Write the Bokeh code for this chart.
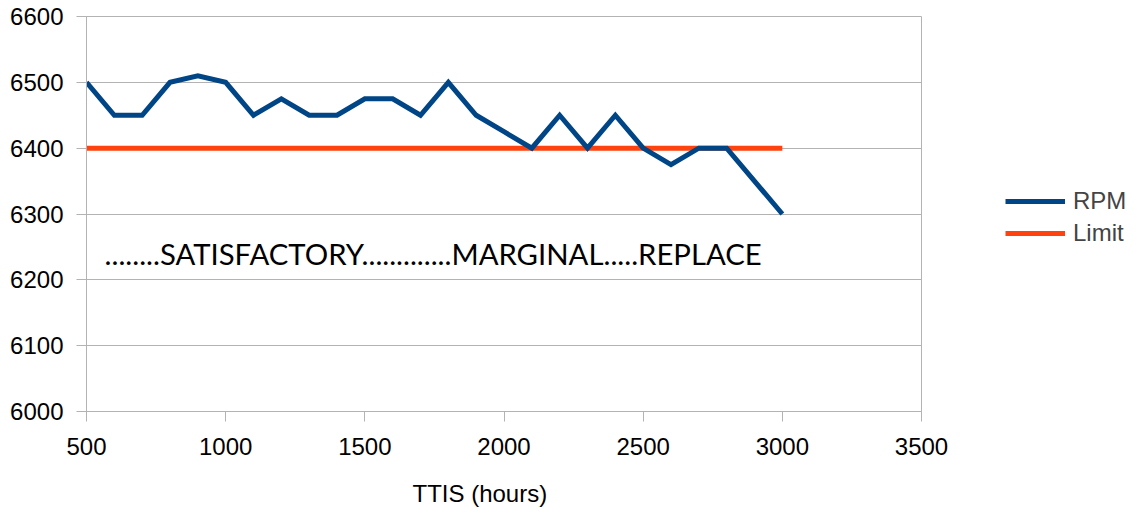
from bokeh.plotting import figure
from bokeh.models import Range1d, Legend, LegendItem, Title, FixedTicker
from bokeh.core.properties import value
from bokeh.embed import file_html
from bokeh.resources import INLINE

ttis = [500, 600, 700, 800, 900, 1000, 1100, 1200, 1300, 1400, 1500, 1600, 1700,
        1800, 1900, 2000, 2100, 2200, 2300, 2400, 2500, 2600, 2700, 2800, 2900, 3000]
rpm = [6500, 6450, 6450, 6500, 6510, 6500, 6450, 6475, 6450, 6450, 6475, 6475, 6450,
       6500, 6450, 6425, 6400, 6450, 6400, 6450, 6400, 6375, 6400, 6400, 6350, 6300]
limit = [6400] * len(ttis)
x_ticks = [500, 1000, 1500, 2000, 2500, 3000, 3500]
y_ticks = [6000, 6100, 6200, 6300, 6400, 6500, 6600]
note = "........SATISFACTORY.............MARGINAL.....REPLACE"
note_x = [565]
note_y = [6240]

p = figure(frame_width=835, frame_height=395, output_backend="svg", toolbar_location=None,
           x_range=Range1d(500, 3500), y_range=Range1d(6000, 6600),
           min_border_left=86, min_border_right=10, min_border_top=16, min_border_bottom=4)
p.background_fill_color = "white"
p.border_fill_color = "white"
p.outline_line_color = "#b3b3b3"

p.xgrid.visible = False
p.ygrid.grid_line_color = "#b3b3b3"
p.ygrid.grid_line_width = 1

for ax in (p.xaxis[0], p.yaxis[0]):
    ax.axis_line_color = "#b3b3b3"
    ax.major_tick_line_color = "#b3b3b3"
    ax.major_tick_out = 10
    ax.major_tick_in = 0
    ax.minor_tick_line_color = None
    ax.major_label_text_font = "Liberation Sans"
    ax.major_label_text_font_size = "24px"
    ax.major_label_text_color = "black"
p.xaxis[0].ticker = FixedTicker(ticks=x_ticks)
p.yaxis[0].ticker = FixedTicker(ticks=y_ticks)
p.xaxis[0].major_label_standoff = 16
p.yaxis[0].major_label_standoff = 13

r_lim = p.line(ttis, limit, line_color="#ff420e", line_width=5)
r_rpm = p.line(ttis, rpm, line_color="#004586", line_width=5, line_join="miter")

p.text(x=note_x, y=note_y, text=[note], text_font=value("Lato"), text_font_size="29.3px",
       text_color="black", text_baseline="middle", text_align="left")

legend = Legend(items=[LegendItem(label="RPM", renderers=[r_rpm]),
                       LegendItem(label="Limit", renderers=[r_lim])],
                location=(84, 163), glyph_width=60, glyph_height=30, spacing=2,
                label_text_font="Liberation Sans", label_text_font_size="24px",
                border_line_color=None, background_fill_alpha=0, padding=0, margin=0,
                label_standoff=8)
p.add_layout(legend, "right")

t = Title(text="TTIS (hours)", align="left", offset=326, text_font="Liberation Sans",
          text_font_size="24px", text_font_style="normal", text_color="black",
          standoff=41)
p.add_layout(t, "below")

open("out.html", "w").write(file_html(p, INLINE))
